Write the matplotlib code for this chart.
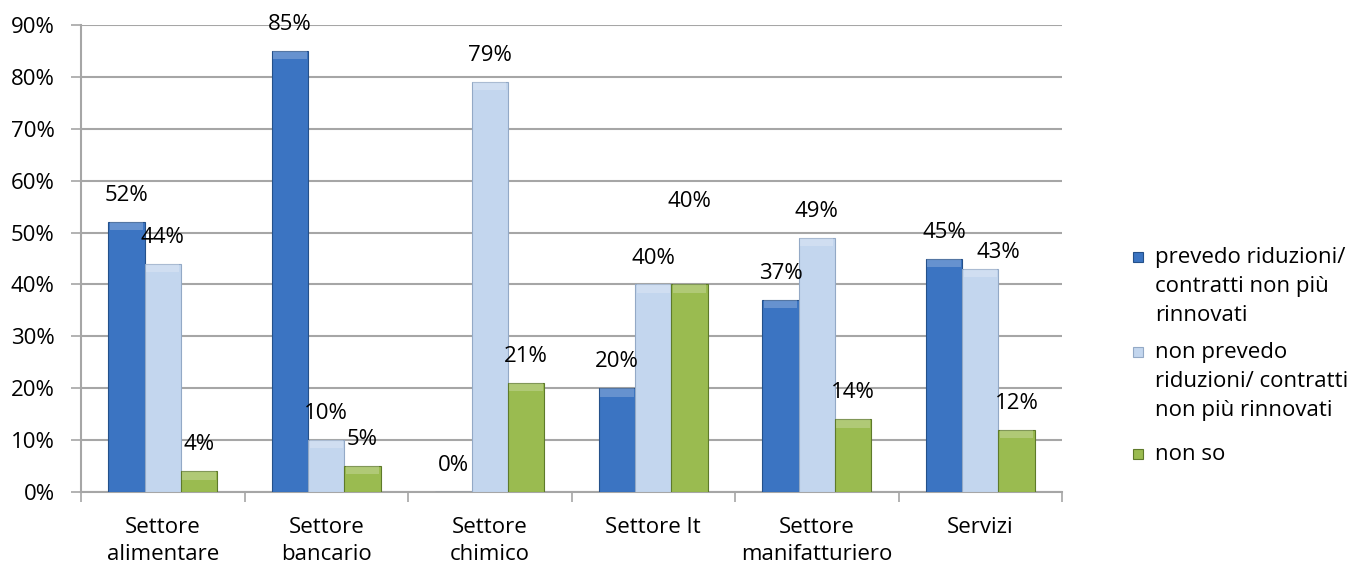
import numpy as np
import matplotlib
matplotlib.use("Agg")
import matplotlib.pyplot as plt
from matplotlib.patches import Rectangle
from matplotlib.ticker import FuncFormatter

plt.rcParams['font.family'] = ['Open Sans', 'DejaVu Sans']

# -----------------------------
# Data
# -----------------------------
categories = ["Settore\nalimentare", "Settore\nbancario", "Settore\nchimico",
              "Settore It", "Settore\nmanifatturiero", "Servizi"]
series_names = ["prevedo riduzioni/\ncontratti non più\nrinnovati",
                "non prevedo\nriduzioni/ contratti\nnon più rinnovati",
                "non so"]
prevedo = [52, 85, 0, 20, 37, 45]
non_prevedo = [44, 10, 79, 40, 49, 43]
non_so = [4, 5, 21, 40, 14, 12]

colors = ["#3B74C2", "#C3D6EE", "#9ABB50"]
edges = ["#24508A", "#93A9C6", "#5E7A2A"]

# label nudges (points) where the labels were moved to avoid overlap
nudge = {(2, 3): (0, 41), (1, 5): (13, -7)}

FS = 16

# -----------------------------
# Figure
# -----------------------------
fig = plt.figure(figsize=(13.6, 5.7), dpi=100)
ax = fig.add_axes([81/1360, 1-492/570, (1062-81)/1360, (492-25)/570])

x = np.arange(len(categories))
w = 0.222
grid_c = "#A6A6A6"

for s, vals in enumerate([prevedo, non_prevedo, non_so]):
    pos = x + (s - 1) * w
    ax.bar(pos, vals, width=w, color=colors[s], edgecolor=edges[s],
           linewidth=0.8, zorder=3)
    # soft bevel highlight on top of the bars
    top = [min(v, 1.6) for v in vals]
    ax.bar(pos, top, bottom=[v - t for v, t in zip(vals, top)],
           width=w * 0.92, color="white", alpha=0.22, linewidth=0, zorder=4)
    for i, v in enumerate(vals):
        dx, dy = nudge.get((s, i), (0, 0))
        ax.annotate(f"{v}%", (pos[i], v), xytext=(dx, 19 + dy),
                    textcoords="offset points", ha="center", va="center",
                    fontsize=FS, color="black", zorder=5)

ax.set_xlim(-0.5, len(categories) - 0.5)
ax.set_ylim(0, 90)
ax.set_yticks(np.arange(0, 91, 10))
ax.yaxis.set_major_formatter(FuncFormatter(lambda v, p: f"{int(v)}%"))
ax.grid(axis="y", color=grid_c, linewidth=1.5, zorder=0)
ax.set_axisbelow(True)

# x ticks at group boundaries, labels at group centers
ax.set_xticks(np.arange(-0.5, len(categories), 1.0))
ax.set_xticklabels([])
ax.set_xticks(x, minor=True)
ax.set_xticklabels(categories, minor=True, fontsize=FS, linespacing=1.4)
ax.tick_params(axis="x", which="major", length=7, width=1.2, color=grid_c, direction="out")
ax.tick_params(axis="x", which="minor", length=0, pad=18)
ax.tick_params(axis="y", length=7, width=1.2, color=grid_c, pad=12, labelsize=FS)

for side in ["top", "right"]:
    ax.spines[side].set_visible(False)
for side in ["left", "bottom"]:
    ax.spines[side].set_color(grid_c)
    ax.spines[side].set_linewidth(1.5)

# -----------------------------
# Legend (drawn by hand, marker on first line)
# -----------------------------
leg_y = [257, 352, 454]
for s, name in enumerate(series_names):
    yy = 1 - leg_y[s] / 570
    fig.patches.append(Rectangle((1133/1360, yy - 5/570), 10/1360, 10/570,
                                 transform=fig.transFigure, facecolor=colors[s],
                                 edgecolor=edges[s], linewidth=0.8))
    fig.text(1155/1360, yy + 10/570, name, fontsize=FS, va="top", ha="left",
             linespacing=1.5)

fig.savefig("out.png", dpi=100)
